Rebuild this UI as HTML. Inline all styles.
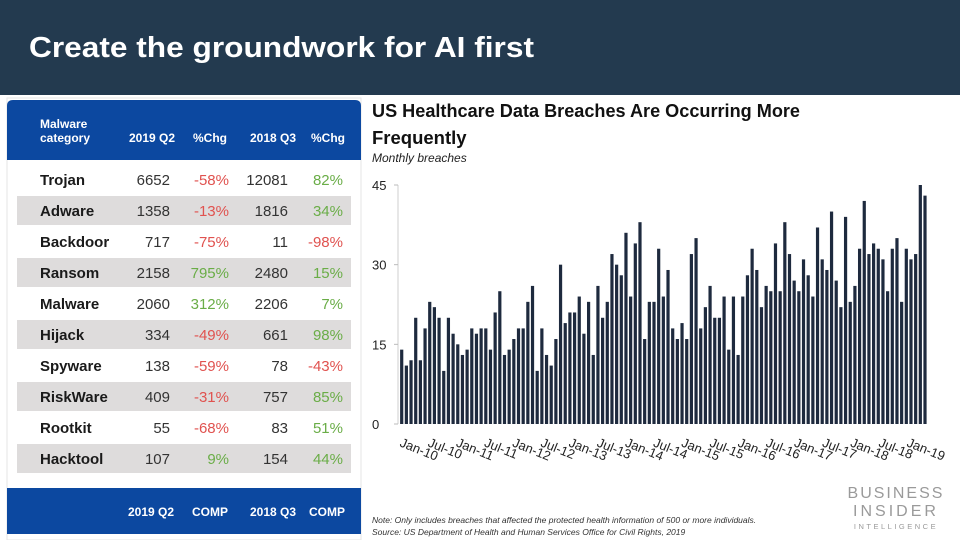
<!DOCTYPE html>
<html><head><meta charset="utf-8">
<style>
html,body{margin:0;padding:0;background:#fff;}
svg{display:block;font-family:"Liberation Sans",sans-serif;}
</style></head>
<body>
<svg id="root" width="960" height="540" viewBox="0 0 960 540" xmlns="http://www.w3.org/2000/svg">
  <rect x="0" y="0" width="960" height="540" fill="#ffffff"/>
  <rect x="0" y="0" width="960" height="95" fill="#233a4f"/>
  <text x="29" y="57" fill="#ffffff" font-size="29" font-weight="bold" textLength="505" lengthAdjust="spacingAndGlyphs">Create the groundwork for AI first</text>

  <!-- table panel -->
  <g>
    <rect x="7" y="98" width="354" height="442" fill="#ffffff" stroke="#e6e6e6"/>
    <path d="M7 160 V106 Q7 100 13 100 H355 Q361 100 361 106 V160 Z" fill="#0c48a0"/>
    <g fill="#ffffff" font-size="12" font-weight="bold">
      <text x="40" y="128">Malware</text>
      <text x="40" y="142">category</text>
      <text x="152" y="142" text-anchor="middle">2019 Q2</text>
      <text x="210" y="142" text-anchor="middle">%Chg</text>
      <text x="273" y="142" text-anchor="middle">2018 Q3</text>
      <text x="328" y="142" text-anchor="middle">%Chg</text>
    </g>
    <g id="rows"></g>
    <rect x="7" y="488" width="354" height="46" fill="#0c48a0"/>
    <g fill="#ffffff" font-size="12" font-weight="bold">
      <text x="151" y="516" text-anchor="middle">2019 Q2</text>
      <text x="210" y="516" text-anchor="middle">COMP</text>
      <text x="273" y="516" text-anchor="middle">2018 Q3</text>
      <text x="327" y="516" text-anchor="middle">COMP</text>
    </g>
  </g>

  <!-- chart -->
  <g>
    <text x="372" y="117" font-size="18.5" font-weight="bold" fill="#111" textLength="428" lengthAdjust="spacingAndGlyphs">US Healthcare Data Breaches Are Occurring More</text>
    <text x="372" y="144" font-size="18.5" font-weight="bold" fill="#111">Frequently</text>
    <text x="372" y="162" font-size="12" font-style="italic" fill="#222">Monthly breaches</text>
    <g id="yaxis"></g>
    <g id="bars"></g>
    <g id="xlabels"></g>
    <text x="372" y="523" font-size="8.5" font-style="italic" fill="#333">Note: Only includes breaches that affected the protected health information of 500 or more individuals.</text>
    <text x="372" y="535" font-size="8.5" font-style="italic" fill="#333">Source: US Department of Health and Human Services Office for Civil Rights, 2019</text>
    <g fill="#9a9a9a">
      <text x="896" y="498" font-size="16" text-anchor="middle" letter-spacing="2">BUSINESS</text>
      <text x="896" y="516" font-size="16" text-anchor="middle" letter-spacing="3">INSIDER</text>
      <text x="896" y="529" font-size="7.5" text-anchor="middle" letter-spacing="2.5">INTELLIGENCE</text>
    </g>
  </g>
</svg>
<script>
const NS = "http://www.w3.org/2000/svg";
// table data
const categories = ["Trojan","Adware","Backdoor","Ransom","Malware","Hijack","Spyware","RiskWare","Rootkit","Hacktool"];
const q2Values = ["6652","1358","717","2158","2060","334","138","409","55","107"];
const q2Chg = ["-58%","-13%","-75%","795%","312%","-49%","-59%","-31%","-68%","9%"];
const q3Values = ["12081","1816","11","2480","2206","661","78","757","83","154"];
const q3Chg = ["82%","34%","-98%","15%","7%","98%","-43%","85%","51%","44%"];

// chart data
const breaches = [14,11,12,20,12,18,23,22,20,10,20,17,15,13,14,18,17,18,18,14,21,25,13,14,16,18,18,23,26,10,18,13,11,16,30,19,21,21,
24,17,23,13,26,20,23,32,30,28,36,24,34,38,16,23,23,33,24,29,18,16,19,16,32,35,18,22,26,20,20,24,14,24,13,24,28,
33,29,22,26,25,34,25,38,32,27,25,31,28,24,37,31,29,40,27,22,39,23,26,33,42,32,34,33,31,25,33,35,23,33,31,32,45,43];
const yTicks = [0,15,30,45];
const xTickLabels = ["Jan-10","Jul-10","Jan-11","Jul-11","Jan-12","Jul-12","Jan-13","Jul-13","Jan-14","Jul-14","Jan-15","Jul-15","Jan-16","Jul-16","Jan-17","Jul-17","Jan-18","Jul-18","Jan-19"];

function el(tag, attrs, parent){ const e=document.createElementNS(NS,tag); for(const k in attrs) e.setAttribute(k,attrs[k]); parent.appendChild(e); return e; }

// rows
const rows = document.getElementById('rows');
const red = "#e0524f", green = "#6aad47";
const colorFor = s => s.trim().startsWith('-') ? red : green;
categories.forEach((c,i)=>{
  const cy = 180 + i*31;
  if (i%2===1) {
    const r = el('rect',{x:17,y:cy-15,width:334,height:29,fill:'#dedcdc'},rows);
    
    
  }
  const t1 = el('text',{x:40,y:cy+5,'font-size':15,'font-weight':'bold',fill:'#1a1a1a'},rows); t1.textContent=c;
  
  
  const t2 = el('text',{x:170,y:cy+5,'font-size':15,fill:'#333','text-anchor':'end'},rows); t2.textContent=q2Values[i];
  
  
  const t3 = el('text',{x:229,y:cy+5,'font-size':15,fill:colorFor(q2Chg[i]),'text-anchor':'end'},rows); t3.textContent=q2Chg[i];
  
  
  const t4 = el('text',{x:288,y:cy+5,'font-size':15,fill:'#333','text-anchor':'end'},rows); t4.textContent=q3Values[i];
  
  
  const t5 = el('text',{x:343,y:cy+5,'font-size':15,fill:colorFor(q3Chg[i]),'text-anchor':'end'},rows); t5.textContent=q3Chg[i];
  
  
});

// axes
const y0 = 424, yTop = 185, yMax = 45;
const yScale = v => y0 - v*(y0-yTop)/yMax;
const xStart = 401.7, xEnd = 925;
const xScale = i => xStart + i*(xEnd-xStart)/(breaches.length-1);
const yaxis = document.getElementById('yaxis');
el('line',{x1:398,y1:yTop,x2:398,y2:y0,stroke:'#cfcfcf','stroke-width':1},yaxis);
yTicks.forEach(v=>{
  const y = yScale(v);
  const tl = el('line',{x1:394,y1:y,x2:398,y2:y,stroke:'#bbb'},yaxis);
  
  
  const t = el('text',{x:372,y:y+5,'font-size':13,fill:'#222'},yaxis); t.textContent=String(v);
  
  
});
const bars = document.getElementById('bars');
const bw = 3.2;
breaches.forEach((v,i)=>{
  const b = el('rect',{x:xScale(i)-bw/2,y:yScale(v),width:bw,height:y0-yScale(v),fill:'#1e2a3e'},bars);
  
  
});
const xl = document.getElementById('xlabels');
const lx0 = 399, lx1 = 906;
xTickLabels.forEach((s,i)=>{
  const x = lx0 + i*(lx1-lx0)/(xTickLabels.length-1);
  const t = el('text',{x:x,y:446,'font-size':13,fill:'#222',transform:`rotate(22 ${x} 446)`},xl); t.textContent=s;
  
  
});
</script>
</body></html>
